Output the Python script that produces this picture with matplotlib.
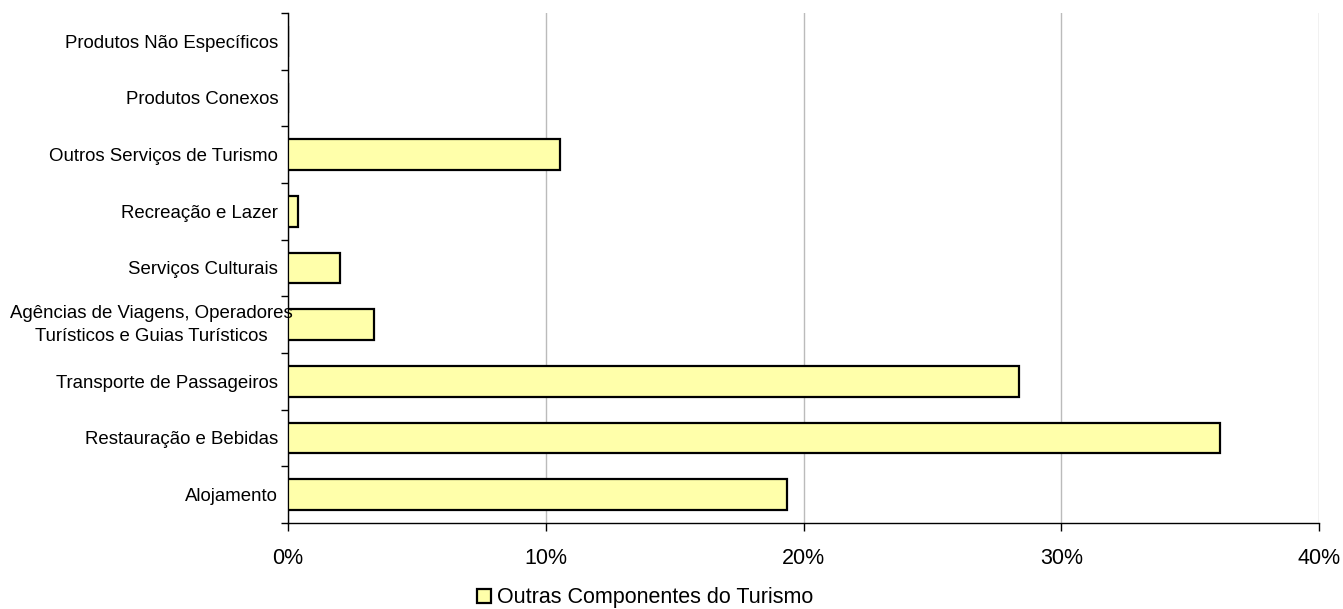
import matplotlib
matplotlib.use("Agg")
import matplotlib.pyplot as plt
import matplotlib.transforms as mtransforms
from matplotlib.ticker import FuncFormatter, FixedLocator, NullFormatter

plt.rcParams['font.family'] = ['Liberation Sans', 'DejaVu Sans']

categories = [
    "Alojamento",
    "Restauração e Bebidas",
    "Transporte de Passageiros",
    "Agências de Viagens, Operadores\nTurísticos e Guias Turísticos",
    "Serviços Culturais",
    "Recreação e Lazer",
    "Outros Serviços de Turismo",
    "Produtos Conexos",
    "Produtos Não Específicos",
]
values = [19.36, 36.16, 28.36, 3.34, 2.02, 0.39, 10.55, 0.0, 0.0]
series_name = "Outras Componentes do Turismo"
xticks = [0, 10, 20, 30, 40]
wide_label_index = 3

fig = plt.figure(figsize=(13.43, 6.09), dpi=100)
ax = fig.add_axes([288/1343, 1-523/609, (1319-288)/1343, (523-13)/609])

pos = list(range(len(categories)))
ax.barh(pos, values, height=0.54, color='#FFFFAA', edgecolor='black', linewidth=1.6,
        label=series_name, zorder=3)

ax.set_xlim(0, 40)
ax.set_ylim(-0.5, len(categories) - 0.5)
ax.set_xticks(xticks)
ax.xaxis.set_major_formatter(FuncFormatter(lambda v, p: f"{int(v)}%"))
ax.grid(axis='x', color='#BBBBBB', linewidth=1, zorder=0)

# category ticks at boundaries, labels at centers
ax.yaxis.set_major_locator(FixedLocator([p - 0.5 for p in pos] + [len(categories) - 0.5]))
ax.yaxis.set_major_formatter(NullFormatter())
ax.yaxis.set_minor_locator(FixedLocator(pos))
tick_texts = [("" if i == wide_label_index else c) for i, c in enumerate(categories)]
ax.set_yticklabels(tick_texts, minor=True, fontsize=13.4)
ax.tick_params(axis='y', which='major', length=5, width=1, direction='out')
ax.tick_params(axis='y', which='minor', length=0, pad=7)
ax.tick_params(axis='x', length=6, width=1, direction='out', pad=12, labelsize=15.5)

# the long two-line label is centered and overhangs the axis, as in the reference
trans = mtransforms.offset_copy(ax.get_yaxis_transform(), fig=fig, x=-137, y=0, units='dots')
ax.text(0, pos[wide_label_index], categories[wide_label_index], transform=trans,
        ha='center', va='center', multialignment='center', fontsize=13.4,
        linespacing=1.45, zorder=5)

for s in ['top', 'right']:
    ax.spines[s].set_visible(False)
for s in ['left', 'bottom']:
    ax.spines[s].set_linewidth(1)
    ax.spines[s].set_color('black')

handles, labels = ax.get_legend_handles_labels()
fig.legend(handles, labels, loc='center', bbox_to_anchor=(645/1343, 1-598/609),
           frameon=False, fontsize=15.5, handlelength=0.65, handleheight=0.65,
           handletextpad=0.3, borderpad=0)

fig.savefig("out.png", dpi=100)
